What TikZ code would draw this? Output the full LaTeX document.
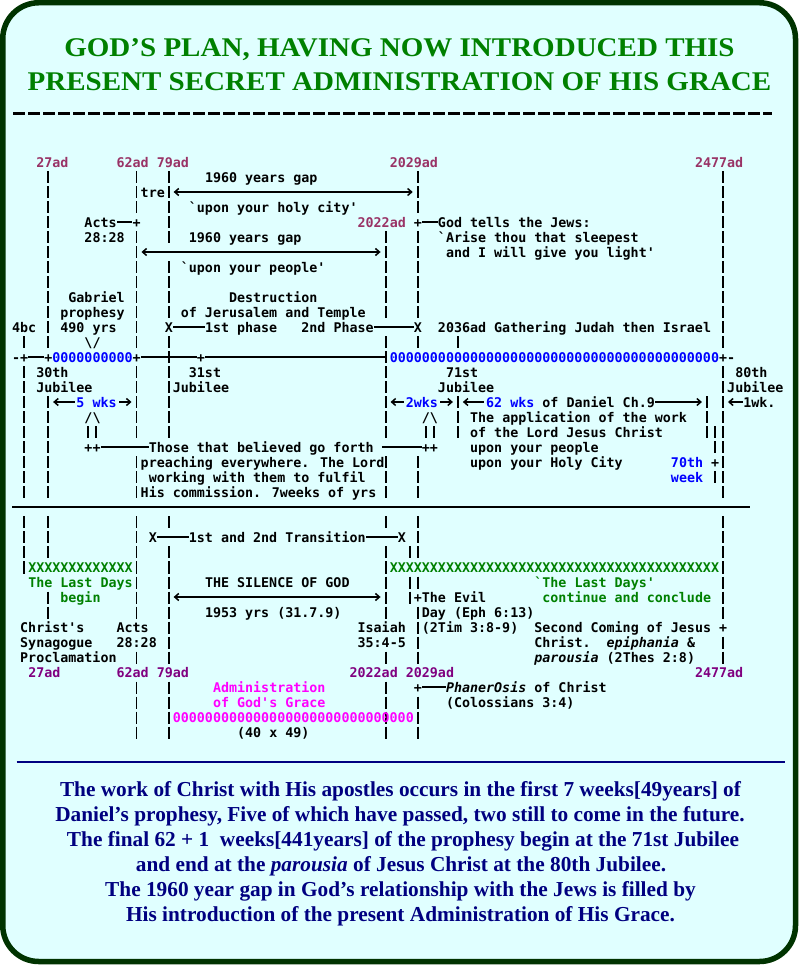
\documentclass[tikz,border=0pt]{standalone}
\usepackage{fontspec}
\usetikzlibrary{arrows.meta}
\newfontfamily\chartfont{DejaVu Sans Mono}
\newfontfamily\headfont{Liberation Serif}[FakeStretch=1.075]
\newfontfamily\notefont{Liberation Serif}
\definecolor{paper}{HTML}{E0FFFF}
\definecolor{framegreen}{HTML}{003300}
\definecolor{headgreen}{HTML}{008000}
\definecolor{notenavy}{HTML}{000080}
\definecolor{datetop}{HTML}{993366}
\definecolor{datelow}{HTML}{800080}
\definecolor{wkblue}{HTML}{0000FF}
\definecolor{daygreen}{HTML}{008000}
\definecolor{gracepink}{HTML}{FF00FF}
\tikzset{
  chtxt/.style={anchor=west, inner sep=0pt, text height=13pt, text depth=2.5pt,
    font=\chartfont\bfseries\fontsize{13.34}{15}\selectfont},
  tbar/.style={line width=1.9pt, dash pattern=on 12pt off 3pt},
  hl/.style={line width=1.5pt},
  tipl/.style={hl, {Straight Barb[length=4pt,width=7pt]}-},
  tipr/.style={hl, -{Straight Barb[length=4pt,width=7pt]}},
  tipb/.style={hl, {Straight Barb[length=4pt,width=7pt]}-{Straight Barb[length=4pt,width=7pt]}},
  headline/.style={anchor=base, inner sep=0pt, text=headgreen,
    font=\headfont\bfseries\fontsize{27}{34}\selectfont},
  noteline/.style={anchor=base, inner sep=0pt, text=notenavy,
    font=\notefont\bfseries\fontsize{21.3}{25}\selectfont}
}
\begin{document}
\begin{tikzpicture}[x=1pt,y=-1pt]
\useasboundingbox (0,0) rectangle (799,965);
\draw[framegreen, line width=5.5pt, fill=paper, rounded corners=36pt] (2.75,2.75) rectangle (795.5,961.5);
\node[headline] (title1) at (399.5,56.7) {GOD’S PLAN, HAVING NOW INTRODUCED THIS};
\node[headline] (title2) at (399.5,90.7) {PRESENT SECRET ADMINISTRATION OF HIS GRACE};
\draw[line width=3pt, dash pattern=on 12pt off 3pt] (13,113.3) -- (772,113.3);
\draw[line width=1.3pt] (12,507) -- (750,507);
\draw[notenavy, line width=2.5pt] (16.7,762) -- (785,762);
\node[noteline] (note1) at (400.5,796) {The work of Christ with His apostles occurs in the first 7 weeks[49years] of};
\node[noteline] (note2) at (400,821) {Daniel’s prophesy, Five of which have passed, two still to come in the future.};
\node[noteline] (note3) at (403,846) {The final 62 + 1~~weeks[441years] of the prophesy begin at the 71st Jubilee};
\node[noteline] (note4) at (401,871) {and end at the \textit{parousia} of Jesus Christ at the 80th Jubilee.};
\node[noteline] (note5) at (400.5,896) {The 1960 year gap in God’s relationship with the Jews is filled by};
\node[noteline] (note6) at (400.5,921) {His introduction of the present Administration of His Grace.};

\begin{scope}[x=8.034pt, y=-15pt, shift={(16pt,-162pt)}]
\foreach \c/\a/\b in {1/12/12, 1/14/22, 1/24/27, 4/1/12, 4/16/22, 4/24/26, 4/29/30,
  9/18/18, 10/18/18, 15/1/3, 15/5/12, 15/14/18, 15/20/22, 15/24/30, 15/33/33, 15/35/38,
  19/1/5, 19/7/10, 19/12/18, 19/24/24, 19/26/33, 19/35/38,
  46/5/10, 46/12/18, 46/20/22, 46/24/24, 46/26/30, 46/33/33, 46/35/38,
  49/26/26, 49/28/29, 50/1/3, 50/5/10, 50/12/12, 50/20/22, 50/24/26, 50/28/28, 50/30/33, 50/36/38,
  51/18/18, 52/18/18, 55/12/12, 55/16/18, 86/16/18, 87/18/19, 87/21/21,
  88/1/12, 88/14/22, 88/24/30, 88/32/33}
  \draw[tbar] (\c,\a-.367) -- (\c,\b+.433);

\node[chtxt, text=datetop] (top27) at (2.5,0) {27ad};
\node[chtxt, text=datetop] (top62) at (12.5,0) {62ad};
\node[chtxt, text=datetop] (top79) at (17.5,0) {79ad};
\node[chtxt, text=datetop] (top2029) at (46.5,0) {2029ad};
\node[chtxt, text=datetop] (top2477) at (84.5,0) {2477ad};

\node[chtxt] (gapcity) at (23.5,1) {1960 years gap};
\node[chtxt] (tre) at (15.5,2) {tre};
\coordinate (citya) at (19.62,2);
\coordinate (cityb) at (49.38,2);
\draw[tipb] (citya) -- (cityb);
\node[chtxt] (holycity) at (21.5,3) {`upon your holy city'};
\node[chtxt] (acts) at (8.5,4) {Acts};
\node[chtxt] (actsplus) at (14.5,4) {+};
\draw[hl] (acts) -- (actsplus);
\node[chtxt, text=datetop] (top2022) at (42.5,4) {2022ad};
\node[chtxt] (godplus) at (49.5,4) {+};
\node[chtxt] (godtells) at (52.5,4) {God tells the Jews:};
\draw[hl] (godplus) -- (godtells);
\node[chtxt] (actsref) at (8.5,5) {28:28};
\node[chtxt] (gappeople) at (21.5,5) {1960 years gap};
\node[chtxt] (arise) at (52.5,5) {`Arise thou that sleepest};
\coordinate (peoplea) at (15.62,6);
\coordinate (peopleb) at (45.38,6);
\draw[tipb] (peoplea) -- (peopleb);
\node[chtxt] (light) at (53.5,6) {and I will give you light'};
\node[chtxt] (yourpeople) at (20.5,7) {`upon your people'};
\node[chtxt] (gabriel) at (6.5,9) {Gabriel};
\node[chtxt] (destruction) at (26.5,9) {Destruction};
\node[chtxt] (prophesy) at (5.5,10) {prophesy};
\node[chtxt] (jerusalem) at (20.5,10) {of Jerusalem and Temple};
\node[chtxt] (bc4) at (-0.5,11) {4bc};
\node[chtxt] (yrs490) at (5.5,11) {490 yrs};
\node[chtxt] (phasex1) at (18.5,11) {X};
\node[chtxt] (phase1) at (23.5,11) {1st phase};
\node[chtxt] (phase2) at (35.5,11) {2nd Phase};
\node[chtxt] (phasex2) at (49.5,11) {X};
\node[chtxt] (gathering) at (52.5,11) {2036ad Gathering Judah then Israel};
\draw[hl] (phasex1) -- (phase1);
\draw[hl] (phase2) -- (phasex2);
\node[chtxt] (down) at (8.5,12) {\textbackslash/};

\node[chtxt] (lend) at (-0.5,13) {-};
\node[chtxt] (plus1) at (0.5,13) {+};
\node[chtxt] (plus4) at (3.5,13) {+};
\node[chtxt, text=wkblue] (oone) at (4.5,13) {0000000000};
\node[chtxt] (plus15) at (14.5,13) {+};
\node[chtxt] (plus23) at (22.5,13) {+};
\coordinate (bar46) at (46,13);
\node[chtxt, text=wkblue] (otwo) at (46.5,13) {00000000000000000000000000000000000000000};
\node[chtxt] (plus88) at (87.5,13) {+};
\node[chtxt] (rend) at (88.5,13) {-};
\draw[hl] (plus1) -- (plus4);
\draw[hl] (plus15) -- (plus23);
\draw[hl] (plus23) -- (bar46);

\node[chtxt] (j30) at (2.5,14) {30th};
\node[chtxt] (j31) at (21.5,14) {31st};
\node[chtxt] (j71) at (53.5,14) {71st};
\node[chtxt] (j80) at (89.5,14) {80th};
\node[chtxt] (jub30) at (2.5,15) {Jubilee};
\node[chtxt] (jub31) at (19.5,15) {Jubilee};
\node[chtxt] (jub71) at (52.5,15) {Jubilee};
\node[chtxt] (jub80) at (88.5,15) {Jubilee};

\node[chtxt, text=wkblue] (wk5) at (7.5,16) {5 wks};
\coordinate (w5a) at (4.62,16);
\coordinate (w5b) at (14.38,16);
\draw[tipl, shorten >=1.5pt] (w5a) -- (wk5);
\draw[tipr, shorten <=2.5pt] (wk5) -- (w5b);
\node[chtxt, text=wkblue] (wk2) at (48.5,16) {2wks};
\coordinate (w2a) at (46.62,16);
\coordinate (w2b) at (54.38,16);
\draw[tipl, shorten >=2pt] (w2a) -- (wk2);
\draw[tipr, shorten <=2pt] (wk2) -- (w2b);
\node[chtxt, text=wkblue] (wk62) at (58.5,16) {62 wks};
\node[chtxt] (daniel) at (65.5,16) {of Daniel Ch.9};
\coordinate (w62a) at (55.62,16);
\coordinate (w62b) at (85.38,16);
\draw[tipl, shorten >=1.5pt] (w62a) -- (wk62);
\draw[tipr] (daniel) -- (w62b);
\node[chtxt] (wk1) at (90.5,16) {1wk.};
\coordinate (w1a) at (88.62,16);
\draw[tipl] (w1a) -- (wk1);

\node[chtxt] (upa) at (8.5,17) {/\textbackslash};
\node[chtxt] (upb) at (50.5,17) {/\textbackslash};
\node[chtxt] (application) at (56.5,17) {The application of the work};
\node[chtxt] (lordjc) at (56.5,18) {of the Lord Jesus Christ};
\node[chtxt] (ppa) at (8.5,19) {++};
\node[chtxt] (forth) at (16.5,19) {Those that believed go forth};
\node[chtxt] (ppb) at (50.5,19) {++};
\node[chtxt] (upeople) at (56.5,19) {upon your people};
\draw[hl] (ppa) -- (forth);
\draw[hl] ([xshift=8.034pt]forth.east) -- (ppb);
\node[chtxt] (preach) at (15.5,20) {preaching everywhere. The Lord};
\node[chtxt] (ucity) at (56.5,20) {upon your Holy City};
\node[chtxt, text=wkblue] (w70) at (81.5,20) {70th};
\node[chtxt] (p70) at (86.5,20) {+};
\node[chtxt] (working) at (16.5,21) {working with them to fulfil};
\node[chtxt, text=wkblue] (w70b) at (81.5,21) {week};
\node[chtxt] (commission) at (15.5,22) {His commission. 7weeks of yrs};

\node[chtxt] (transx1) at (16.5,25) {X};
\node[chtxt] (transition) at (21.5,25) {1st and 2nd Transition};
\node[chtxt] (transx2) at (47.5,25) {X};
\draw[hl] (transx1) -- (transition);
\draw[hl] (transition) -- (transx2);
\node[chtxt, text=daygreen] (xxa) at (1.5,27) {XXXXXXXXXXXXX};
\node[chtxt, text=daygreen] (xxb) at (46.5,27) {XXXXXXXXXXXXXXXXXXXXXXXXXXXXXXXXXXXXXXXXX};
\node[chtxt, text=daygreen] (lastdays) at (1.5,28) {The Last Days};
\node[chtxt] (silence) at (23.5,28) {THE SILENCE OF GOD};
\node[chtxt, text=daygreen] (lastdays2) at (64.5,28) {`The Last Days'};
\node[chtxt, text=daygreen] (begin) at (5.5,29) {begin};
\coordinate (sila) at (19.62,29);
\coordinate (silb) at (45.38,29);
\draw[tipb] (sila) -- (silb);
\node[chtxt] (pevil) at (49.5,29) {+};
\node[chtxt] (evil) at (50.5,29) {The Evil};
\node[chtxt, text=daygreen] (conclude) at (65.5,29) {continue and conclude};
\node[chtxt] (yrs1953) at (23.5,30) {1953 yrs (31.7.9)};
\node[chtxt] (eph) at (50.5,30) {Day (Eph 6:13)};
\node[chtxt] (christs) at (0.5,31) {Christ's};
\node[chtxt] (actsb) at (12.5,31) {Acts};
\node[chtxt] (isaiah) at (42.5,31) {Isaiah};
\node[chtxt] (tim) at (50.5,31) {(2Tim 3:8-9)};
\node[chtxt] (second) at (64.5,31) {Second Coming of Jesus};
\node[chtxt] (psecond) at (87.5,31) {+};
\node[chtxt] (synagogue) at (0.5,32) {Synagogue};
\node[chtxt] (actsbref) at (12.5,32) {28:28};
\node[chtxt] (isaref) at (42.5,32) {35:4-5};
\node[chtxt] (christdot) at (64.5,32) {Christ.};
\node[chtxt] (epiph) at (73.5,32) {\itshape epiphania};
\node[chtxt] (amp) at (83.5,32) {\&};
\node[chtxt] (procl) at (0.5,33) {Proclamation};
\node[chtxt] (parou) at (64.5,33) {\itshape parousia};
\node[chtxt] (thes) at (73.5,33) {(2Thes 2:8)};

\node[chtxt, text=datelow] (low27) at (1.5,34) {27ad};
\node[chtxt, text=datelow] (low62) at (12.5,34) {62ad};
\node[chtxt, text=datelow] (low79) at (17.5,34) {79ad};
\node[chtxt, text=datelow] (low2022) at (41.5,34) {2022ad};
\node[chtxt, text=datelow] (low2029) at (48.5,34) {2029ad};
\node[chtxt, text=datelow] (low2477) at (84.5,34) {2477ad};

\node[chtxt, text=gracepink] (admin) at (24.5,35) {Administration};
\node[chtxt] (pphan) at (49.5,35) {+};
\node[chtxt] (phan) at (53.5,35) {\itshape PhanerOsis};
\node[chtxt] (ofchrist) at (64.5,35) {of Christ};
\draw[hl] (pphan) -- (phan);
\node[chtxt, text=gracepink] (grace) at (24.5,36) {of God's Grace};
\node[chtxt] (colos) at (53.5,36) {(Colossians 3:4)};
\node[chtxt, text=gracepink] (othree) at (19.5,37) {000000000000000000000000000000};
\node[chtxt] (fortyx) at (27.5,38) {(40 x 49)};
\end{scope}
\end{tikzpicture}
\end{document}
